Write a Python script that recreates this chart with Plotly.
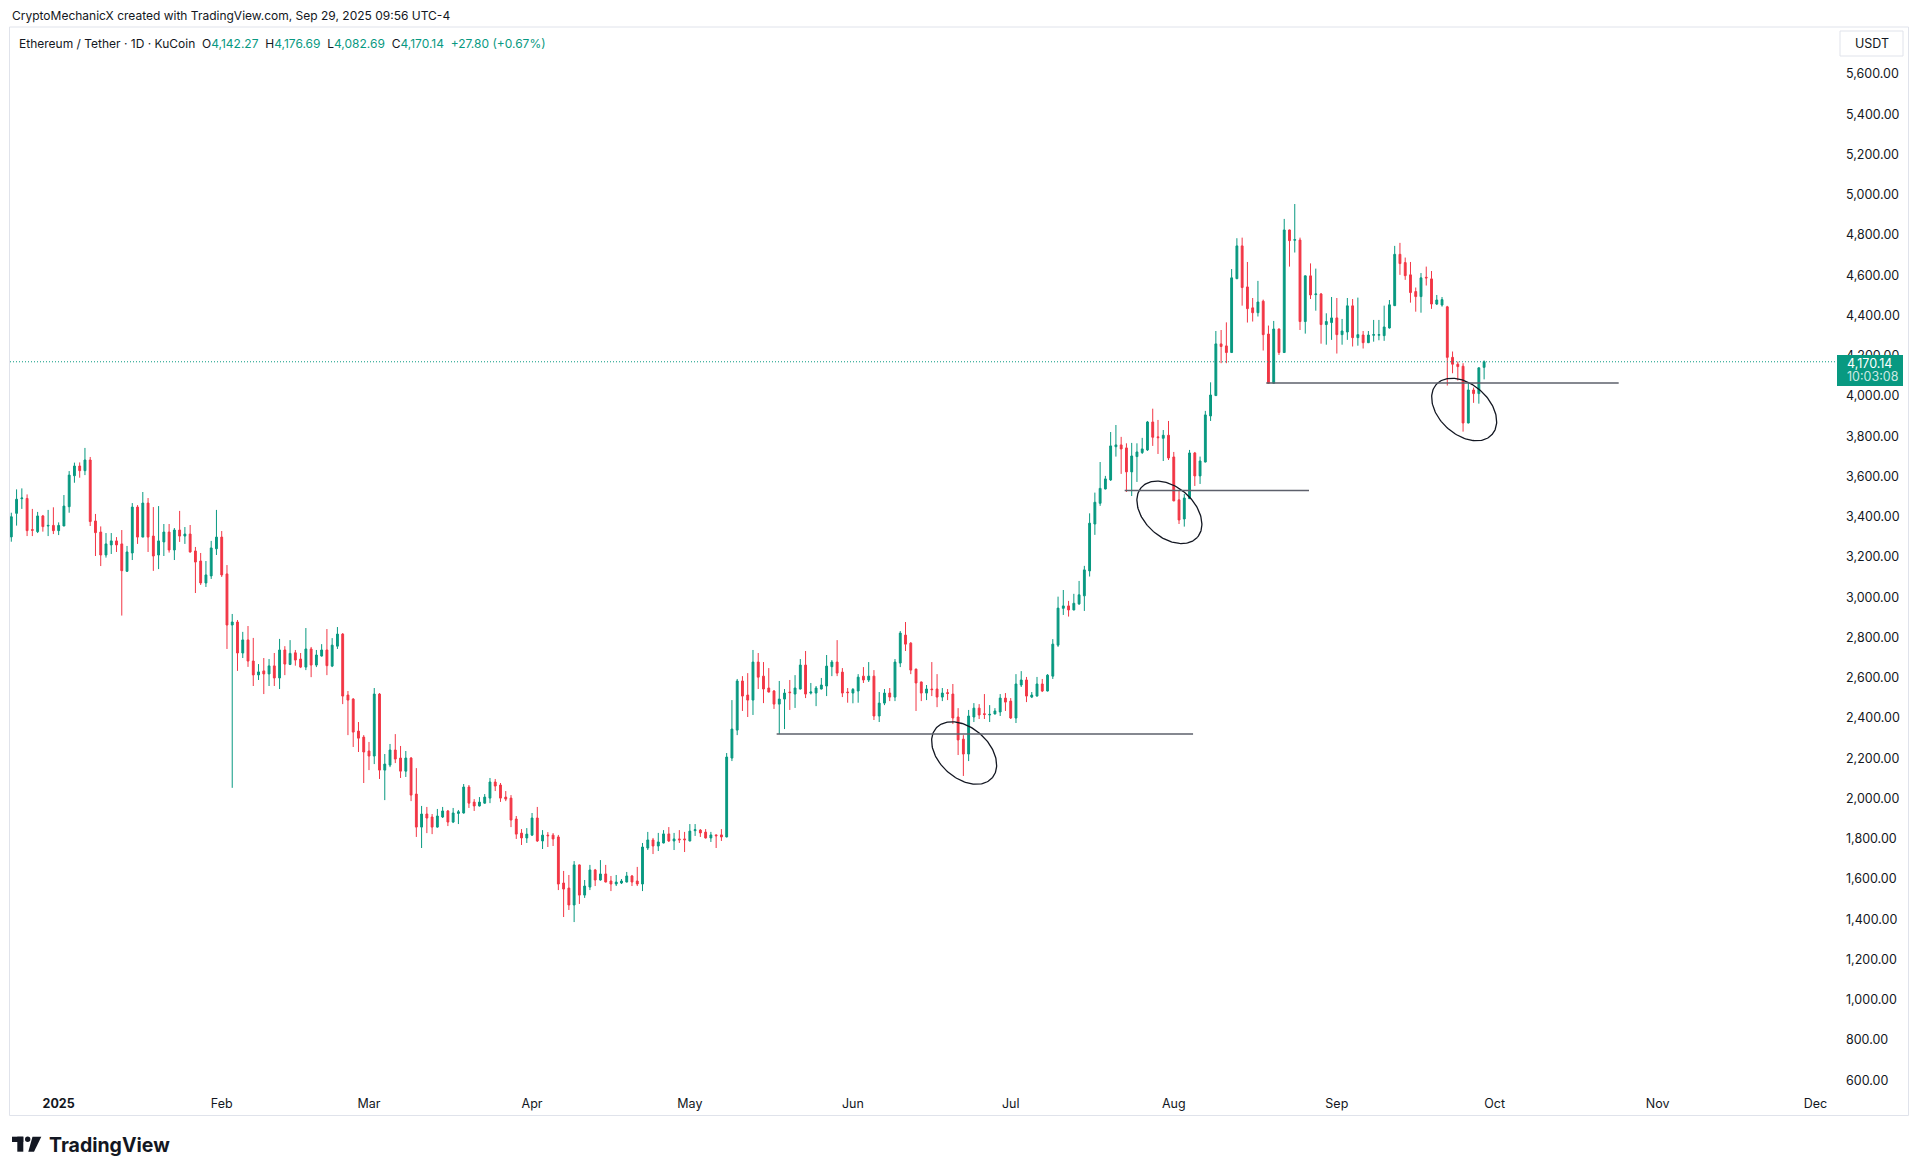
import numpy as np
import pandas as pd
import plotly.graph_objects as go

# ETH/USDT daily candles, 2024-12-23 .. 2025-09-29
start_day = "2024-12-23"

opens = [
    3300, 3417, 3490, 3491, 3336, 3326, 3404, 3354, 3357, 3331,
    3354, 3450, 3604, 3652, 3629, 3682, 3379, 3324, 3210, 3260,
    3280, 3265, 3129, 3220, 3448, 3299, 3468, 3304, 3210, 3275,
    3324, 3235, 3334, 3304, 3314, 3230, 3180, 3071, 3106, 3241,
    3299, 3116, 2862, 2877, 2723, 2788, 2683, 2614, 2634, 2619,
    2659, 2599, 2738, 2666, 2724, 2693, 2653, 2743, 2663, 2708,
    2738, 2658, 2757, 2817, 2514, 2494, 2335, 2305, 2236, 2211,
    2519, 2141, 2166, 2241, 2201, 2136, 2201, 2022, 1858, 1923,
    1908, 1858, 1908, 1938, 1883, 1926, 1928, 2057, 1982, 1963,
    1977, 2002, 2082, 2067, 2007, 2002, 1898, 1828, 1804, 1818,
    1903, 1789, 1818, 1818, 1809, 1580, 1555, 1471, 1670, 1520,
    1560, 1645, 1595, 1625, 1590, 1575, 1580, 1585, 1615, 1590,
    1575, 1754, 1794, 1764, 1779, 1824, 1789, 1799, 1799, 1789,
    1840, 1843, 1833, 1804, 1819, 1819, 1809, 2201, 2340, 2584,
    2514, 2489, 2678, 2608, 2549, 2534, 2469, 2494, 2529, 2519,
    2544, 2663, 2524, 2524, 2544, 2559, 2655, 2678, 2628, 2529,
    2524, 2534, 2608, 2589, 2608, 2410, 2474, 2524, 2504, 2673,
    2812, 2772, 2643, 2579, 2524, 2544, 2544, 2504, 2526, 2519,
    2405, 2295, 2221, 2405, 2449, 2421, 2415, 2420, 2430, 2499,
    2484, 2400, 2564, 2589, 2504, 2509, 2569, 2534, 2608, 2762,
    2945, 2957, 2937, 2967, 3007, 3131, 3364, 3467, 3538, 3583,
    3748, 3757, 3742, 3623, 3699, 3719, 3732, 3871, 3797, 3790,
    3805, 3697, 3484, 3389, 3490, 3717, 3603, 3672, 3901, 4002,
    4259, 4249, 4216, 4583, 4746, 4542, 4438, 4414, 4471, 4308,
    4063, 4333, 4216, 4825, 4774, 4775, 4370, 4597, 4504, 4507,
    4355, 4365, 4388, 4305, 4318, 4448, 4290, 4303, 4265, 4302,
    4302, 4300, 4338, 4449, 4704, 4663, 4602, 4519, 4494, 4590,
    4582, 4457, 4452, 4443, 4192, 4158, 4148, 3866, 4030, 4012,
    4142.27,
]
highs = [
    3420, 3536, 3541, 3511, 3439, 3424, 3409, 3434, 3447, 3372,
    3508, 3627, 3669, 3670, 3742, 3697, 3414, 3352, 3319, 3319,
    3299, 3334, 3255, 3468, 3458, 3523, 3493, 3448, 3453, 3364,
    3364, 3344, 3429, 3349, 3359, 3250, 3220, 3180, 3280, 3434,
    3329, 3160, 2917, 2887, 2828, 2857, 2798, 2668, 2698, 2693,
    2723, 2793, 2757, 2787, 2738, 2723, 2847, 2753, 2738, 2767,
    2842, 2797, 2852, 2822, 2534, 2499, 2380, 2315, 2281, 2549,
    2524, 2221, 2271, 2320, 2261, 2236, 2206, 2151, 1963, 1958,
    1923, 1948, 1958, 1943, 1953, 1943, 2072, 2067, 1997, 2007,
    2022, 2102, 2097, 2077, 2037, 2017, 1913, 1848, 1853, 1928,
    1958, 1843, 1833, 1828, 1819, 1640, 1620, 1689, 1672, 1595,
    1670, 1650, 1694, 1670, 1615, 1620, 1600, 1635, 1620, 1660,
    1779, 1834, 1804, 1829, 1843, 1858, 1829, 1843, 1834, 1873,
    1873, 1848, 1848, 1834, 1821, 1848, 2226, 2489, 2594, 2608,
    2623, 2738, 2723, 2678, 2648, 2539, 2584, 2544, 2589, 2613,
    2693, 2733, 2574, 2559, 2599, 2713, 2688, 2787, 2648, 2549,
    2549, 2618, 2653, 2678, 2638, 2529, 2544, 2549, 2693, 2832,
    2877, 2777, 2645, 2581, 2564, 2678, 2618, 2549, 2544, 2569,
    2449, 2315, 2440, 2474, 2469, 2519, 2464, 2449, 2519, 2524,
    2499, 2618, 2633, 2604, 2529, 2604, 2594, 2618, 2792, 3003,
    3036, 2982, 3017, 3081, 3156, 3417, 3520, 3672, 3603, 3821,
    3856, 3797, 3765, 3767, 3765, 3792, 3876, 3937, 3881, 3831,
    3876, 3722, 3533, 3513, 3732, 3722, 3699, 3926, 4068, 4323,
    4328, 4366, 4631, 4784, 4787, 4666, 4487, 4572, 4479, 4350,
    4373, 4335, 4880, 4827, 4954, 4787, 4599, 4659, 4633, 4512,
    4411, 4492, 4487, 4383, 4487, 4482, 4489, 4323, 4323, 4378,
    4378, 4449, 4477, 4746, 4761, 4688, 4666, 4539, 4611, 4643,
    4621, 4502, 4492, 4448, 4221, 4171, 4163, 4068, 4042, 4142,
    4176.69,
]
lows = [
    3276, 3356, 3439, 3304, 3304, 3319, 3326, 3304, 3314, 3309,
    3354, 3420, 3569, 3594, 3607, 3354, 3205, 3155, 3197, 3215,
    3225, 2909, 3126, 3185, 3265, 3299, 3225, 3131, 3140, 3205,
    3222, 3185, 3275, 3265, 3222, 3021, 3061, 3051, 3091, 3210,
    3101, 2743, 2053, 2634, 2698, 2654, 2559, 2589, 2519, 2559,
    2559, 2544, 2613, 2663, 2660, 2648, 2638, 2603, 2653, 2705,
    2613, 2653, 2743, 2469, 2315, 2256, 2231, 2077, 2141, 2171,
    2097, 1992, 2156, 2176, 2102, 2107, 1987, 1809, 1754, 1828,
    1823, 1855, 1903, 1863, 1878, 1873, 1925, 1953, 1938, 1960,
    1974, 1977, 2037, 1983, 1987, 1858, 1799, 1769, 1779, 1815,
    1784, 1749, 1759, 1764, 1545, 1411, 1446, 1386, 1476, 1506,
    1545, 1565, 1592, 1583, 1540, 1565, 1575, 1583, 1565, 1565,
    1540, 1744, 1724, 1739, 1777, 1784, 1744, 1779, 1734, 1787,
    1814, 1809, 1801, 1784, 1754, 1789, 1807, 2186, 2315, 2435,
    2405, 2415, 2544, 2474, 2527, 2445, 2320, 2345, 2440, 2450,
    2542, 2499, 2517, 2459, 2542, 2509, 2608, 2608, 2504, 2476,
    2473, 2476, 2574, 2579, 2390, 2380, 2464, 2484, 2484, 2653,
    2733, 2618, 2435, 2484, 2489, 2509, 2454, 2484, 2489, 2370,
    2216, 2112, 2186, 2380, 2395, 2395, 2380, 2418, 2410, 2435,
    2395, 2375, 2554, 2479, 2499, 2507, 2529, 2532, 2594, 2753,
    2912, 2904, 2935, 2962, 2932, 3103, 3310, 3454, 3536, 3578,
    3699, 3613, 3523, 3503, 3573, 3712, 3727, 3752, 3712, 3677,
    3682, 3477, 3364, 3351, 3488, 3553, 3563, 3670, 3876, 4000,
    4163, 4163, 4214, 4581, 4449, 4365, 4370, 4395, 4226, 4061,
    4061, 4204, 4214, 4643, 4713, 4328, 4310, 4482, 4424, 4260,
    4255, 4279, 4211, 4255, 4279, 4246, 4250, 4236, 4263, 4270,
    4277, 4274, 4335, 4447, 4602, 4577, 4464, 4419, 4414, 4549,
    4433, 4452, 4444, 4052, 4113, 4077, 3823, 3864, 3966, 3962,
    4082.69,
]
closes = [
    3400, 3487, 3493, 3331, 3333, 3404, 3351, 3357, 3331, 3357,
    3453, 3607, 3652, 3629, 3682, 3376, 3321, 3210, 3265, 3280,
    3260, 3132, 3225, 3448, 3299, 3468, 3299, 3205, 3280, 3324,
    3235, 3334, 3304, 3314, 3225, 3175, 3071, 3111, 3245, 3299,
    3111, 2862, 2877, 2723, 2788, 2683, 2614, 2629, 2619, 2659,
    2599, 2738, 2668, 2721, 2688, 2653, 2743, 2663, 2713, 2738,
    2660, 2762, 2817, 2509, 2489, 2330, 2300, 2231, 2211, 2519,
    2141, 2171, 2241, 2196, 2136, 2201, 2017, 1858, 1923, 1903,
    1858, 1913, 1938, 1883, 1928, 1934, 2057, 1977, 1963, 1982,
    2007, 2082, 2062, 2002, 1997, 1893, 1823, 1804, 1823, 1903,
    1789, 1818, 1815, 1799, 1575, 1550, 1471, 1670, 1520, 1565,
    1645, 1595, 1625, 1585, 1575, 1585, 1590, 1615, 1585, 1575,
    1759, 1794, 1764, 1784, 1824, 1789, 1799, 1795, 1795, 1838,
    1845, 1829, 1804, 1819, 1815, 1809, 2206, 2345, 2584, 2509,
    2489, 2678, 2603, 2544, 2529, 2469, 2494, 2524, 2526, 2549,
    2663, 2519, 2529, 2549, 2564, 2658, 2678, 2623, 2524, 2526,
    2542, 2603, 2589, 2608, 2410, 2474, 2524, 2504, 2678, 2822,
    2767, 2638, 2574, 2524, 2544, 2541, 2504, 2524, 2522, 2400,
    2291, 2221, 2410, 2449, 2415, 2418, 2418, 2435, 2499, 2479,
    2400, 2569, 2589, 2509, 2514, 2569, 2534, 2613, 2767, 2946,
    2957, 2937, 2970, 3012, 3136, 3368, 3472, 3541, 3588, 3752,
    3757, 3737, 3623, 3702, 3722, 3737, 3871, 3795, 3793, 3805,
    3692, 3479, 3384, 3493, 3717, 3603, 3677, 3906, 4005, 4259,
    4246, 4216, 4587, 4746, 4539, 4434, 4414, 4467, 4305, 4063,
    4333, 4216, 4825, 4772, 4777, 4370, 4597, 4502, 4507, 4355,
    4370, 4388, 4305, 4323, 4448, 4290, 4305, 4265, 4303, 4305,
    4305, 4343, 4453, 4704, 4658, 4598, 4514, 4494, 4587, 4587,
    4457, 4477, 4479, 4192, 4158, 4146, 3866, 4030, 4012, 4140,
    4170.14,
]

month_ticks = ["2025-01-01", "2025-02-01", "2025-03-01", "2025-04-01", "2025-05-01", "2025-06-01",
               "2025-07-01", "2025-08-01", "2025-09-01", "2025-10-01", "2025-11-01", "2025-12-01"]
month_labels = ["<b>2025</b>", "Feb", "Mar", "Apr", "May", "Jun", "Jul", "Aug", "Sep", "Oct", "Nov", "Dec"]
price_ticks = list(range(600, 5601, 200))
price_labels = [f"{v:,.2f}" for v in price_ticks]

last_price = 4170.14

# drawings: horizontal levels (start, end, price) and circled spots (centre date, centre price)
levels = [
    ("2025-05-17 12:00", "2025-08-04 16:00", 2320),
    ("2025-07-22 16:00", "2025-08-26 17:00", 3530),
    ("2025-08-18 14:00", "2025-10-24 14:00", 4065),
]
circles = [
    ("2025-06-22 03:30", 2226),
    ("2025-07-31 04:00", 3422),
    ("2025-09-25 05:00", 3933),
]

UP = "#089981"
DOWN = "#F23645"
TXT = "#131722"
FONT = "Inter, Roboto, sans-serif"

W, H = 1918, 1175
PL, PR, PT, PB = 10, 1836, 27, 1089
X_RANGE = ["2024-12-22 18:00", "2025-12-04 21:36"]
Y_RANGE = [556.5, 5833.6]


def px(x):
    return (x - PL) / (PR - PL)


def py(y):
    return (PB - y) / (PB - PT)


dates = pd.date_range(start_day, periods=len(closes), freq="D")

fig = go.Figure()
fig.add_trace(go.Candlestick(
    x=dates, open=opens, high=highs, low=lows, close=closes,
    increasing=dict(line=dict(color=UP, width=1), fillcolor=UP),
    decreasing=dict(line=dict(color=DOWN, width=1), fillcolor=DOWN),
    whiskerwidth=0, hoverinfo="skip", showlegend=False,
))

# circled zones
span_days = (pd.Timestamp(X_RANGE[1]) - pd.Timestamp(X_RANGE[0])) / pd.Timedelta(days=1)
px_per_day = (PR - PL) / span_days
price_per_px = (Y_RANGE[1] - Y_RANGE[0]) / (PB - PT)
t = np.linspace(0, 2 * np.pi, 160)
a, b, th = 37.5, 25.0, np.radians(42)
ex = a * np.cos(t) * np.cos(th) - b * np.sin(t) * np.sin(th)
ey = a * np.cos(t) * np.sin(th) + b * np.sin(t) * np.cos(th)
for cd, cp in circles:
    fig.add_trace(go.Scatter(
        x=pd.Timestamp(cd) + pd.to_timedelta(ex / px_per_day, unit="D"),
        y=cp - ey * price_per_px,
        mode="lines", line=dict(color=TXT, width=1.3),
        hoverinfo="skip", showlegend=False,
    ))

shapes = []
for x0, x1, lv in levels:
    shapes.append(dict(type="line", xref="x", yref="y", x0=x0, x1=x1, y0=lv, y1=lv,
                       line=dict(color="#5d606b", width=1.5)))
# last price line
shapes.append(dict(type="line", xref="paper", yref="y", x0=0, x1=1, y0=last_price, y1=last_price,
                   line=dict(color=UP, width=1, dash="1px,2px")))
# frame
shapes.append(dict(type="rect", xref="paper", yref="paper", x0=px(9.5), x1=px(1908.5), y0=py(27), y1=py(1115.5),
                   line=dict(color="#e0e3eb", width=1)))
# USDT box
shapes.append(dict(type="rect", xref="paper", yref="paper", x0=px(1840), x1=px(1903), y0=py(31), y1=py(56),
                   line=dict(color="#e0e3eb", width=1), fillcolor="white"))
# last price tag
shapes.append(dict(type="rect", xref="paper", yref="paper", x0=px(1837), x1=px(1903), y0=py(355), y1=py(386),
                   line=dict(width=0), fillcolor=UP, layer="above"))
# TradingView logo
shapes += [
    dict(type="rect", xref="paper", yref="paper", x0=px(12), x1=px(23.3), y0=py(1136.7), y1=py(1142),
         line=dict(width=0), fillcolor=TXT),
    dict(type="rect", xref="paper", yref="paper", x0=px(17.3), x1=px(23.3), y0=py(1136.7), y1=py(1151.7),
         line=dict(width=0), fillcolor=TXT),
    dict(type="circle", xref="paper", yref="paper", x0=px(25), x1=px(30.4), y0=py(1136.6), y1=py(1142),
         line=dict(width=0), fillcolor=TXT),
    dict(type="path", xref="paper", yref="paper",
         path=f"M {px(32.5)} {py(1136.7)} L {px(41.3)} {py(1136.7)} L {px(34)} {py(1151.7)} "
              f"L {px(28.3)} {py(1151.7)} Z",
         line=dict(width=0), fillcolor=TXT),
]

g = f"<span style='color:{UP}'>"
legend_row = (f"Ethereum / Tether · 1D · KuCoin&nbsp;&nbsp;O{g}4,142.27</span>&nbsp;&nbsp;H{g}4,176.69</span>"
              f"&nbsp;&nbsp;L{g}4,082.69</span>&nbsp;&nbsp;C{g}4,170.14</span>&nbsp;&nbsp;{g}+27.80 (+0.67%)</span>")

annotations = [
    dict(text="CryptoMechanicX created with TradingView.com, Sep 29, 2025 09:56 UTC-4",
         x=px(10), y=py(15), xanchor="left", yanchor="middle", font=dict(size=12, color=TXT)),
    dict(text=legend_row, x=px(17), y=py(43), xanchor="left", yanchor="middle", font=dict(size=12, color=TXT)),
    dict(text="USDT", x=px(1871.5), y=py(43.5), xanchor="center", yanchor="middle", font=dict(size=12.5, color=TXT)),
    dict(text="4,170.14", x=px(1845), y=py(363.5), xanchor="left", yanchor="middle",
         font=dict(size=12.5, color="white")),
    dict(text="10:03:08", x=px(1845), y=py(376.5), xanchor="left", yanchor="middle",
         font=dict(size=12.5, color="rgba(255,255,255,0.8)")),
    dict(text="<b>TradingView</b>", x=px(47), y=py(1144.5), xanchor="left", yanchor="middle",
         font=dict(size=19.5, color=TXT)),
]
for an in annotations:
    an.update(xref="paper", yref="paper", showarrow=False)

fig.update_layout(
    width=W, height=H,
    margin=dict(l=PL, r=W - PR, t=PT, b=H - PB),
    paper_bgcolor="white", plot_bgcolor="white",
    font=dict(family=FONT, size=12.5, color=TXT),
    showlegend=False,
    boxgap=0.5,
    shapes=shapes,
    annotations=annotations,
    xaxis=dict(
        type="date", range=X_RANGE, rangeslider=dict(visible=False),
        tickvals=month_ticks, ticktext=month_labels, ticks="", showgrid=False,
        zeroline=False, showline=False, ticklabelstandoff=5, fixedrange=True,
    ),
    yaxis=dict(
        side="right", range=Y_RANGE, tickvals=price_ticks, ticktext=price_labels,
        ticks="", showgrid=False, zeroline=False, showline=False,
        ticklabelstandoff=9, fixedrange=True,
    ),
)

fig.write_html("out.html", config={"displayModeBar": False},
               post_script="document.body.style.margin='0';document.body.style.overflow='hidden';")
